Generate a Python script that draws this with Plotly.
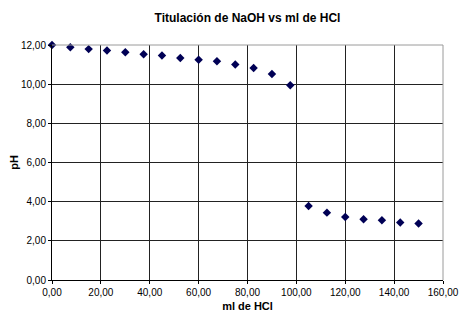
import plotly.graph_objects as go

ml_hcl = [0, 7.5, 15, 22.5, 30, 37.5, 45, 52.5, 60, 67.5, 75, 82.5, 90, 97.5,
          105, 112.5, 120, 127.5, 135, 142.5, 150]
ph = [12.00, 11.88, 11.79, 11.72, 11.63, 11.53, 11.46, 11.34, 11.25, 11.17, 11.00,
      10.83, 10.52, 9.94, 3.78, 3.44, 3.22, 3.10, 3.05, 2.94, 2.89]

x_ticks = [0, 20, 40, 60, 80, 100, 120, 140, 160]
y_ticks = [0, 2, 4, 6, 8, 10, 12]

font_family = "Liberation Sans, Arial, sans-serif"

# page body has an 8px default margin, so the figure is sized to fit the window
W, H = 464, 313

fig = go.Figure()
fig.add_trace(go.Scatter(
    x=ml_hcl, y=ph, mode="markers",
    marker=dict(symbol="diamond", size=6.5, color="#000055"),
    cliponaxis=False, showlegend=False,
))

fig.update_layout(
    width=W, height=H,
    margin=dict(l=44, r=29, t=37, b=41),
    paper_bgcolor="white", plot_bgcolor="white",
    separators=",.",
    font=dict(family=font_family, size=10, color="black"),
    title=dict(text="<b>Titulación de NaOH vs ml de HCl</b>",
               x=0.5, xanchor="center", xref="paper", y=1 - 10/H, yanchor="middle",
               font=dict(size=12, family=font_family, color="black")),
    shapes=[dict(type="path", xref="paper", yref="paper",
                 path="M 0,1 L 1,1 L 1,0", line=dict(color="#9a9a9a", width=1),
                 layer="above")],
)
fig.update_xaxes(
    range=[0, 160], tickvals=x_ticks, tickformat=".2f",
    showgrid=True, gridcolor="#222222", gridwidth=1,
    showline=True, linecolor="black", linewidth=1,
    ticks="outside", ticklen=3, tickcolor="black",
    zeroline=False, automargin=False,
    title=dict(text="<b>ml de HCl</b>", font=dict(size=11), standoff=5),
)
fig.update_yaxes(
    range=[0, 12], tickvals=y_ticks, tickformat=".2f",
    showgrid=True, gridcolor="#222222", gridwidth=1,
    showline=True, linecolor="black", linewidth=1,
    ticks="outside", ticklen=3, tickcolor="black",
    zeroline=False, automargin=False,
    title=dict(text="<b>pH</b>", font=dict(size=11), standoff=14),
)

fig.write_html("out.html")
